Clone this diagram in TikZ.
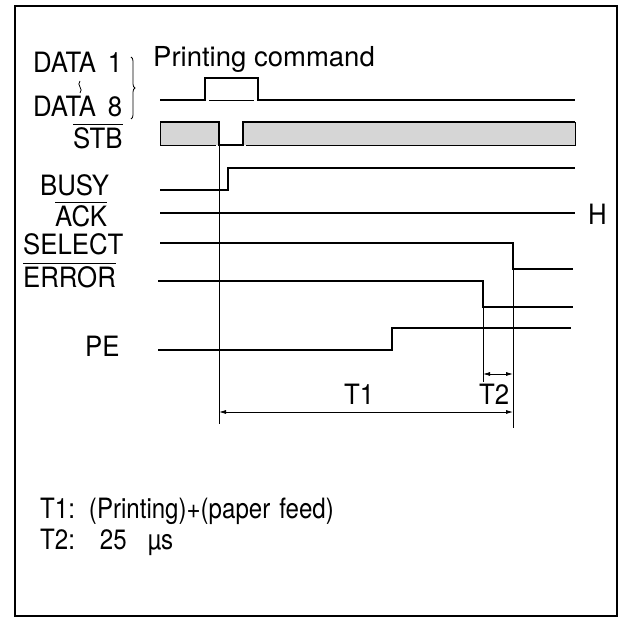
\documentclass[tikz,border=0pt]{standalone}
\usepackage{fontspec}
\setmainfont{TeX Gyre Heros}
\newfontfamily\condfont[FakeStretch=0.92]{TeX Gyre Heros}
\newfontfamily\notefont[FakeStretch=0.86]{TeX Gyre Heros}
\usepackage{tikz}
\usetikzlibrary{positioning,calc,arrows.meta,decorations.pathreplacing}
\definecolor{BandGray}{RGB}{214,214,214}

\begin{document}
\begin{tikzpicture}[x=1pt, y=-1pt,
  lbl/.style={inner sep=0pt, anchor=base west, font=\condfont\fontsize{28}{32}\selectfont},
  note/.style={inner sep=0pt, anchor=base west, font=\notefont\fontsize{28}{32}\selectfont},
  sig/.style={line width=1.3pt, line join=miter},
  guide/.style={line width=0.8pt},
  dim/.style={{Latex[length=7pt,width=4pt]}-{Latex[length=7pt,width=4pt]}, line width=0.8pt}
]
  \useasboundingbox (0,0) rectangle (624,620);
  \draw[line width=1.8pt] (15,6) rectangle (617,616);

  % signal names
  \node[lbl] (data1) at (33,73) {DATA\hspace{12pt}1};
  \node[lbl] (data8) at (33,117) {DATA\hspace{12pt}8};
  \node[lbl] (stb) at (73,149) {STB};
  \node[lbl] (busy) at (40,196) {BUSY};
  \node[lbl] (ack) at (55,227) {ACK};
  \node[lbl] (select) at (23,255) {SELECT};
  \node[lbl] (error) at (23,288) {ERROR};
  \node[lbl] (pe) at (85,356) {PE};
  \node[lbl] (high) at (588,225) {H};
  \node[inner sep=0pt, anchor=base west, font=\fontsize{27.5}{32}\selectfont] (cmd) at (153,67) {Printing command};

  % negated names
  \draw[line width=1pt] ([yshift=3.5pt]stb.north west) -- ([yshift=3.5pt]stb.north east);
  \draw[line width=1pt] ([yshift=3.5pt]ack.north west) -- ([yshift=3.5pt]ack.north east);
  \draw[line width=1pt] ([yshift=3.5pt]error.north west) -- ([yshift=3.5pt]error.north east);

  % data bus
  \draw[guide, decorate, decoration={brace, amplitude=4pt}] (131,57) -- (131,119);
  \draw[guide] (80,81) .. controls (76,85) and (84,89) .. (80,93);

  % waveforms
  \draw[sig] (160,100) -- (205,100) -- (205,78) -- (258,78) -- (258,100) -- (575,100);
  \draw[guide] (209,100) -- (254,100);

  \fill[BandGray] (160,122) rectangle (219,145);
  \fill[BandGray] (243,122) rectangle (575,145);
  \draw[guide] (160,123) -- (160,145) -- (216,145);
  \draw[guide] (246,145) -- (575,145) -- (575,122);
  \draw[sig] (160,122) -- (219,122) -- (219,145) -- (243,145) -- (243,122) -- (575,122);

  \draw[sig] (160,190) -- (228,190) -- (228,168) -- (575,168);
  \draw[sig] (160,213) -- (575,213);
  \draw[sig] (160,243) -- (513,243) coordinate (selFall) -- (513,269) -- (573,269);
  \draw[sig] (158,281) -- (483,281) coordinate (errFall) -- (483,307) -- (573,307);
  \draw[sig] (158,350) -- (392,350) -- (392,328) -- (571,328);

  % timing marks
  \coordinate (strobe) at (219,122);
  \coordinate (strobeEnd) at (219,424);
  \coordinate (errEnd) at (483,382);
  \coordinate (selEnd) at (513,428);
  \draw[guide] (strobe) -- (strobeEnd);
  \draw[guide] (errFall) -- (errEnd);
  \draw[guide] (selFall) -- (selEnd);

  \coordinate (t2a) at (483,374);
  \coordinate (t2b) at (513,374);
  \coordinate (t1a) at (219,412);
  \coordinate (t1b) at (513,412);
  \draw[dim] (t2a) -- (t2b);
  \draw[dim] (t1a) -- (t1b);
  \node[lbl] (t1) at (344,404) {T1};
  \node[lbl] (t2) at (479,404) {T2};

  % notes
  \node[note] (n1) at (40,518) {T1:\hspace{14pt}(Printing)+(paper\hspace{9pt}feed)};
  \node[note] (n2) at (40,549) {T2:\hspace{25pt}25\hspace{21pt}µs};
\end{tikzpicture}
\end{document}
